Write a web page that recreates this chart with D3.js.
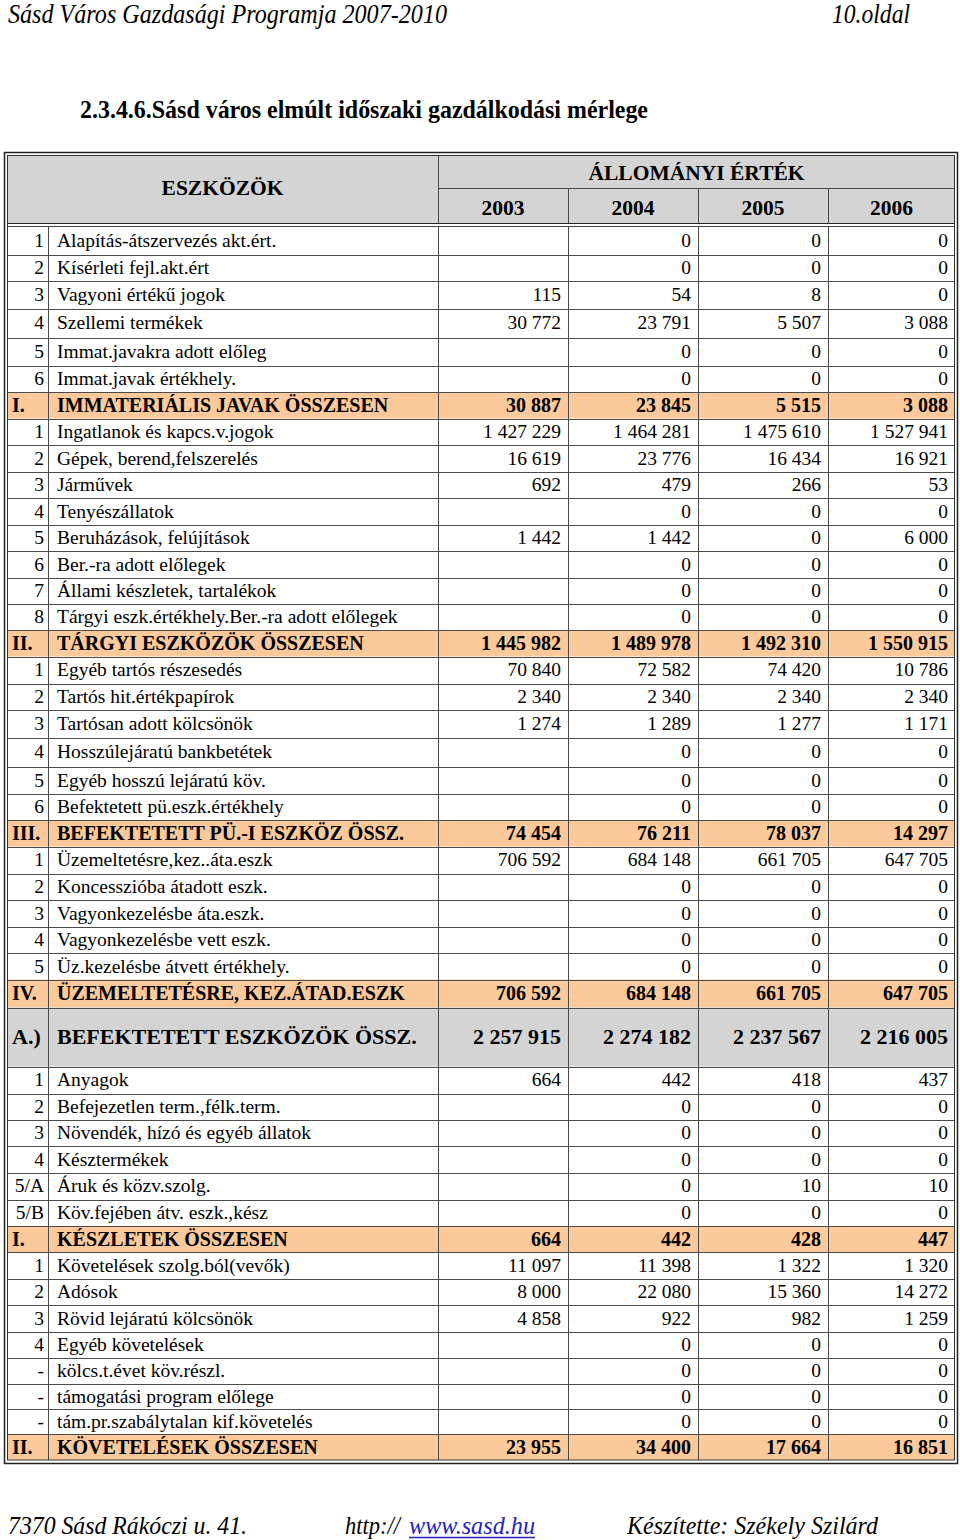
<!DOCTYPE html>
<html><head><meta charset="utf-8">
<script src="https://cdn.jsdelivr.net/npm/d3@7/dist/d3.min.js"></script>
<style>body{margin:0;background:#fff}svg{display:block}</style>
</head><body>
<script>
// ---------- DATA ----------
const years = ["2003", "2004", "2005", "2006"];
const codes = ["1","2","3","4","5","6","I.",
  "1","2","3","4","5","6","7","8","II.",
  "1","2","3","4","5","6","III.",
  "1","2","3","4","5","IV.",
  "A.)",
  "1","2","3","4","5/A","5/B","I.",
  "1","2","3","4","-","-","-","II."];
const labels = ["Alapítás-átszervezés akt.ért.","Kísérleti fejl.akt.ért","Vagyoni értékű jogok","Szellemi termékek","Immat.javakra adott előleg","Immat.javak értékhely.","IMMATERIÁLIS JAVAK ÖSSZESEN",
  "Ingatlanok és kapcs.v.jogok","Gépek, berend,felszerelés","Járművek","Tenyészállatok","Beruházások, felújítások","Ber.-ra adott előlegek","Állami készletek, tartalékok","Tárgyi eszk.értékhely.Ber.-ra adott előlegek","TÁRGYI ESZKÖZÖK ÖSSZESEN",
  "Egyéb tartós részesedés","Tartós hit.értékpapírok","Tartósan adott kölcsönök","Hosszúlejáratú bankbetétek","Egyéb hosszú lejáratú köv.","Befektetett pü.eszk.értékhely","BEFEKTETETT PÜ.-I ESZKÖZ ÖSSZ.",
  "Üzemeltetésre,kez..áta.eszk","Koncesszióba átadott eszk.","Vagyonkezelésbe áta.eszk.","Vagyonkezelésbe vett eszk.","Üz.kezelésbe átvett értékhely.","ÜZEMELTETÉSRE, KEZ.ÁTAD.ESZK",
  "BEFEKTETETT ESZKÖZÖK ÖSSZ.",
  "Anyagok","Befejezetlen term.,félk.term.","Növendék, hízó és egyéb állatok","Késztermékek","Áruk és közv.szolg.","Köv.fejében átv. eszk.,kész","KÉSZLETEK ÖSSZESEN",
  "Követelések szolg.ból(vevők)","Adósok","Rövid lejáratú kölcsönök","Egyéb követelések","kölcs.t.évet köv.részl.","támogatási program előlege","tám.pr.szabálytalan kif.követelés","KÖVETELÉSEK ÖSSZESEN"];
const rowTypes = ["item","item","item","item","item","item","total",
  "item","item","item","item","item","item","item","item","total",
  "item","item","item","item","item","item","total",
  "item","item","item","item","item","total",
  "grand",
  "item","item","item","item","item","item","total",
  "item","item","item","item","item","item","item","total"];
const v2003 = [null,null,115,30772,null,null,30887,
  1427229,16619,692,null,1442,null,null,null,1445982,
  70840,2340,1274,null,null,null,74454,
  706592,null,null,null,null,706592,
  2257915,
  664,null,null,null,null,null,664,
  11097,8000,4858,null,null,null,null,23955];
const v2004 = [0,0,54,23791,0,0,23845,
  1464281,23776,479,0,1442,0,0,0,1489978,
  72582,2340,1289,0,0,0,76211,
  684148,0,0,0,0,684148,
  2274182,
  442,0,0,0,0,0,442,
  11398,22080,922,0,0,0,0,34400];
const v2005 = [0,0,8,5507,0,0,5515,
  1475610,16434,266,0,0,0,0,0,1492310,
  74420,2340,1277,0,0,0,78037,
  661705,0,0,0,0,661705,
  2237567,
  418,0,0,0,10,0,428,
  1322,15360,982,0,0,0,0,17664];
const v2006 = [0,0,0,3088,0,0,3088,
  1527941,16921,53,0,6000,0,0,0,1550915,
  10786,2340,1171,0,0,0,14297,
  647705,0,0,0,0,647705,
  2216005,
  437,0,0,0,10,0,447,
  1320,14272,1259,0,0,0,0,16851];

// ---------- LAYOUT ----------
const rowHeights = [27.5,26.5,27.5,29,28,26.5,26.5,
  26.5,26.5,26.5,26.5,26.5,26.5,26.5,26,26.5,
  27,26.5,27.5,29,27.5,26,26.5,
  27,26.5,26.5,26.5,26.5,28,
  59,
  27,26.5,26,26.5,27,26.5,26,
  26.5,26.5,26.5,26.5,26,25,25,26];
const W = 960, H = 1540;
const FONT = "'Liberation Serif','Times New Roman',serif";
const grayFill = "#d4d4d4", peach = "#fcc99a", lineCol = "#4a4a4a";
const bodyTop = 227;
const colKeys = ["code","label"].concat(years);
const colEdges = [7, 48, 438, 568, 698, 828, 955];
const xLeft = d3.scaleOrdinal().domain(colKeys).range(colEdges.slice(0, -1));
const xRight = d3.scaleOrdinal().domain(colKeys).range(colEdges.slice(1));

const rowTops = [bodyTop].concat(Array.from(d3.cumsum(rowHeights), s => bodyTop + s));
const yTop = d3.scaleOrdinal().domain(d3.range(codes.length)).range(rowTops);
const yBot = d3.scaleOrdinal().domain(d3.range(codes.length)).range(rowTops.slice(1));
const bodyBottom = rowTops[rowTops.length - 1];

const locale = d3.formatLocale({decimal: ",", thousands: "\u00a0", grouping: [3], currency: ["", ""]});
const fmt = locale.format(",d");
const series = [v2003, v2004, v2005, v2006];

const rows = codes.map((c, i) => ({
  i, code: c, label: labels[i], type: rowTypes[i],
  vals: series.map(s => s[i])
}));

const svg = d3.select("body").append("svg").attr("width", W).attr("height", H)
  .attr("font-family", FONT);

// ---------- PAGE HEADER ----------
svg.append("text").attr("x", 8).attr("y", 23).attr("font-size", 27).attr("font-style", "italic")
  .attr("textLength", 439).attr("lengthAdjust", "spacingAndGlyphs")
  .text("Sásd Város Gazdasági Programja 2007-2010");
svg.append("text").attr("x", 832).attr("y", 23).attr("font-size", 27).attr("font-style", "italic")
  .attr("textLength", 78).attr("lengthAdjust", "spacingAndGlyphs")
  .text("10.oldal");
svg.append("text").attr("x", 80).attr("y", 118).attr("font-size", 26).attr("font-weight", "bold")
  .attr("textLength", 568).attr("lengthAdjust", "spacingAndGlyphs")
  .text("2.3.4.6.Sásd város elmúlt időszaki gazdálkodási mérlege");

// ---------- TABLE HEADER ----------
const hdrTop = 155, hdrMid = 188, hdrBot = 223;
svg.append("rect").attr("x", 7).attr("y", hdrTop).attr("width", 948).attr("height", hdrBot - hdrTop).attr("fill", grayFill);
svg.append("text").attr("x", (xLeft("code") + xRight("label")) / 2).attr("y", 195)
  .attr("text-anchor", "middle").attr("font-size", 21.5).attr("font-weight", "bold").text("ESZKÖZÖK");
svg.append("text").attr("x", (xLeft("2003") + xRight("2006")) / 2).attr("y", 180)
  .attr("text-anchor", "middle").attr("font-size", 21.5).attr("font-weight", "bold").text("ÁLLOMÁNYI ÉRTÉK");
svg.selectAll("text.year").data(years).join("text").attr("class", "year")
  .attr("x", d => (xLeft(d) + xRight(d)) / 2).attr("y", 215)
  .attr("text-anchor", "middle").attr("font-size", 21.5).attr("font-weight", "bold").text(d => d);
// header lines
svg.append("line").attr("x1", xLeft("2003")).attr("x2", 955).attr("y1", hdrMid + 0.5).attr("y2", hdrMid + 0.5)
  .attr("stroke", lineCol);
svg.append("line").attr("x1", xLeft("2003") + 0.5).attr("x2", xLeft("2003") + 0.5).attr("y1", hdrTop).attr("y2", hdrBot)
  .attr("stroke", lineCol);
svg.selectAll("line.yv").data(years.slice(1)).join("line").attr("class", "yv")
  .attr("x1", d => xLeft(d) + 0.5).attr("x2", d => xLeft(d) + 0.5).attr("y1", hdrMid).attr("y2", hdrBot)
  .attr("stroke", lineCol);
// double line under header
svg.append("line").attr("x1", 7).attr("x2", 955).attr("y1", hdrBot + 0.5).attr("y2", hdrBot + 0.5).attr("stroke", "#222");
svg.append("line").attr("x1", 7).attr("x2", 955).attr("y1", bodyTop - 0.5).attr("y2", bodyTop - 0.5).attr("stroke", "#444");

// ---------- BODY ----------
const g = svg.append("g");
g.selectAll("rect.bg").data(rows.filter(r => r.type !== "item")).join("rect").attr("class", "bg")
  .attr("x", 7).attr("width", 948)
  .attr("y", r => yTop(r.i)).attr("height", r => yBot(r.i) - yTop(r.i))
  .attr("fill", r => r.type === "grand" ? grayFill : peach);

// horizontal lines
g.selectAll("line.h").data(rows.slice(0, -1)).join("line").attr("class", "h")
  .attr("x1", 7).attr("x2", 955)
  .attr("y1", r => Math.round(yBot(r.i)) + 0.5).attr("y2", r => Math.round(yBot(r.i)) + 0.5)
  .attr("stroke", lineCol).attr("stroke-width", 1);
// vertical lines
g.selectAll("line.v").data(colKeys.slice(1)).join("line").attr("class", "v")
  .attr("x1", d => xLeft(d) + 0.5).attr("x2", d => xLeft(d) + 0.5)
  .attr("y1", bodyTop).attr("y2", bodyBottom)
  .attr("stroke", lineCol);

const fsFor = r => r.type === "grand" ? 22 : (r.type === "total" ? 20 : 19.5);
const rowG = g.selectAll("g.row").data(rows).join("g").attr("class", "row")
  .attr("font-weight", r => r.type === "item" ? "normal" : "bold")
  .attr("font-size", fsFor);
const baseY = r => (yTop(r.i) + yBot(r.i)) / 2 + fsFor(r) * 0.33;

rowG.append("text")
  .attr("x", r => r.type === "item" ? xRight("code") - 4 : 12)
  .attr("text-anchor", r => r.type === "item" ? "end" : "start")
  .attr("y", baseY).text(r => r.code);
rowG.append("text").attr("x", xLeft("label") + 9).attr("y", baseY).text(r => r.label);
rowG.selectAll("text.val").data(r => r.vals.map((v, k) => ({v, k, r})).filter(d => d.v !== null))
  .join("text").attr("class", "val")
  .attr("x", d => xRight(years[d.k]) - 7).attr("y", d => baseY(d.r))
  .attr("text-anchor", "end").text(d => fmt(d.v));

// ---------- OUTER DOUBLE BORDER ----------
svg.append("rect").attr("x", 4.5).attr("y", 152.5).attr("width", 953).attr("height", bodyBottom + 3 - 152)
  .attr("fill", "none").attr("stroke", "#222").attr("stroke-width", 1.5);
svg.append("rect").attr("x", 7.5).attr("y", 155.5).attr("width", 947).attr("height", bodyBottom - 155.5)
  .attr("fill", "none").attr("stroke", "#333").attr("stroke-width", 1);

// ---------- FOOTER ----------
const fy = 1534;
svg.append("text").attr("x", 8).attr("y", fy).attr("font-size", 26).attr("font-style", "italic")
  .attr("textLength", 239).attr("lengthAdjust", "spacingAndGlyphs").text("7370 Sásd Rákóczi u. 41.");
svg.append("text").attr("x", 345).attr("y", fy).attr("font-size", 26).attr("font-style", "italic")
  .attr("textLength", 55).attr("lengthAdjust", "spacingAndGlyphs").text("http://");
svg.append("text").attr("x", 409).attr("y", fy).attr("font-size", 26).attr("font-style", "italic")
  .attr("fill", "#2222cc").attr("textLength", 126).attr("lengthAdjust", "spacingAndGlyphs").text("www.sasd.hu");
svg.append("line").attr("x1", 409).attr("x2", 535).attr("y1", fy + 3.5).attr("y2", fy + 3.5).attr("stroke", "#2222cc").attr("stroke-width", 1.5);
svg.append("text").attr("x", 627).attr("y", fy).attr("font-size", 26).attr("font-style", "italic")
  .attr("textLength", 251).attr("lengthAdjust", "spacingAndGlyphs").text("Készítette: Székely Szilárd");
</script>
</body></html>
